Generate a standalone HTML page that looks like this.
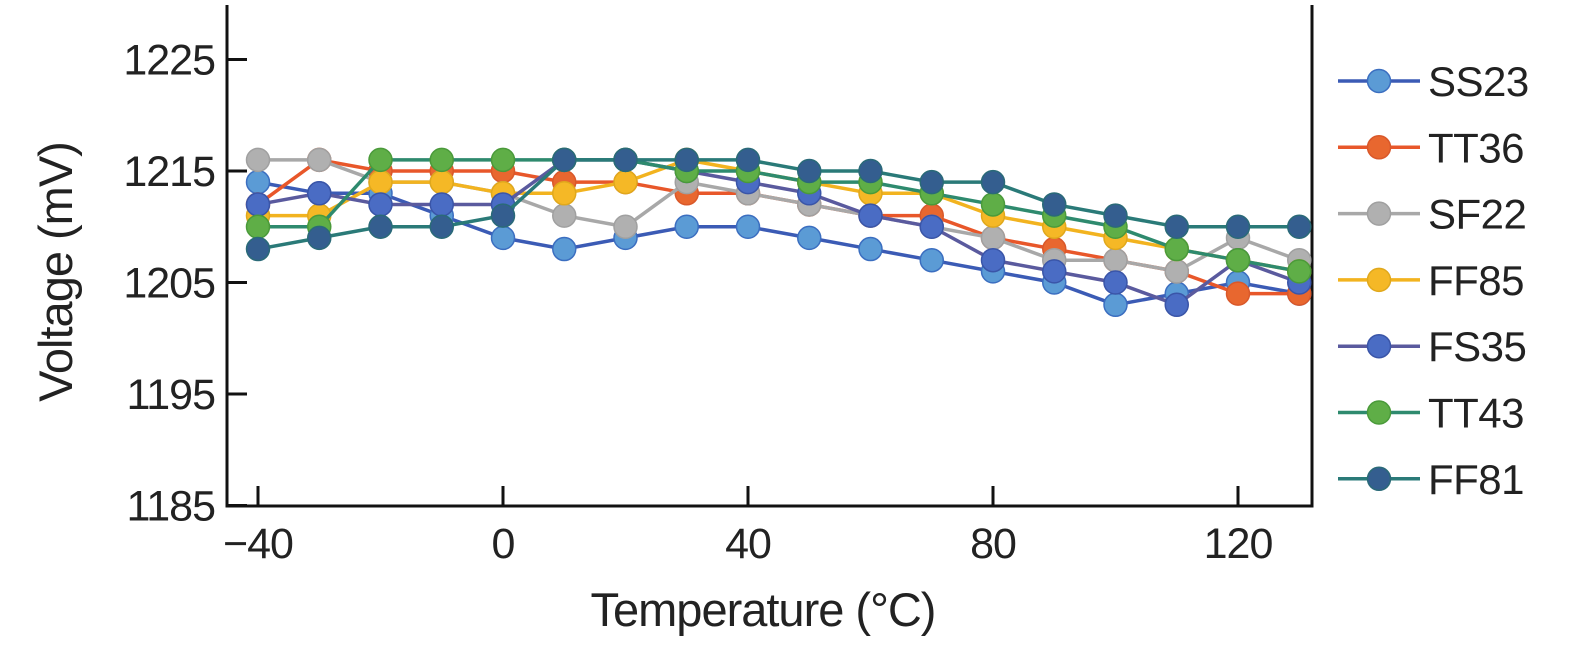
<!DOCTYPE html>
<html><head><meta charset="utf-8"><style>
body{margin:0;background:#fff;}
svg{display:block;font-family:"Liberation Sans",sans-serif;}
</style></head><body>
<svg id="chart" width="1575" height="650"></svg>
<script>
const temps=[-40,-30,-20,-10,0,10,20,30,40,50,60,70,80,90,100,110,120,130];
const seriesNames=["SS23","TT36","SF22","FF85","FS35","TT43","FF81"];
const ss23=[1214,1213,1213,1211,1209,1208,1209,1210,1210,1209,1208,1207,1206,1205,1203,1204,1205,1204];
const tt36=[1212,1216,1215,1215,1215,1214,1214,1213,1213,1212,1211,1211,1209,1208,1207,1206,1204,1204];
const sf22=[1216,1216,1214,1214,1213,1211,1210,1214,1213,1212,1211,1210,1209,1207,1207,1206,1209,1207];
const ff85=[1211,1211,1214,1214,1213,1213,1214,1216,1215,1214,1213,1213,1211,1210,1209,1208,1207,1206];
const fs35=[1212,1213,1212,1212,1212,1216,1216,1215,1214,1213,1211,1210,1207,1206,1205,1203,1207,1205];
const tt43=[1210,1210,1216,1216,1216,1216,1216,1215,1215,1214,1214,1213,1212,1211,1210,1208,1207,1206];
const ff81=[1208,1209,1210,1210,1211,1216,1216,1216,1216,1215,1215,1214,1214,1212,1211,1210,1210,1210];
const xTicks=[-40,0,40,80,120];
const yTicks=[1185,1195,1205,1215,1225];
const allSeries=[ss23,tt36,sf22,ff85,fs35,tt43,ff81];
const lineColors=["#3b5bb5","#e8572a","#a8a8a8","#f2b31f","#5a5a9e","#2e8a6e","#2a7a78"];
const fillColors=["#5b9bd5","#e8672f","#b0b0b0","#f5b826","#4a6cc4","#5fae47","#345e8f"];
const strokeColors=["#3b6ec0","#d9582a","#a0a0a0","#e0a81c","#3a55a8","#4a9a3a","#2a6a78"];
const svg=document.getElementById('chart');
const NS="http://www.w3.org/2000/svg";
const X0=227,X1=1312,Y0=5,Y1=506;
function xs(t){return 503+(t-0)*6.125;}
function ys(v){return 171+(1215-v)*11.15;}
function mk(tag,attrs,parent){const e=document.createElementNS(NS,tag);for(const k in attrs)e.setAttribute(k,attrs[k]);(parent||svg).appendChild(e);return e;}
let ax=mk('path',{d:`M${X0},${Y0} L${X0},${Y1} L${X1},${Y1} L${X1},${Y0}`,fill:'none',stroke:'#111','stroke-width':3});


yTicks.forEach(v=>{
 let l=mk('line',{x1:X0,x2:X0+20,y1:ys(v),y2:ys(v),stroke:'#111','stroke-width':3});
 
 
 let t=mk('text',{x:X0-12,y:ys(v)+15,'text-anchor':'end','font-size':43,fill:'#222','letter-spacing':-1});
 t.textContent=v;
 
 
});
xTicks.forEach(v=>{
 let l=mk('line',{x1:xs(v),x2:xs(v),y1:Y1,y2:Y1-20,stroke:'#111','stroke-width':3});
 
 
 let t=mk('text',{x:xs(v),y:Y1+52,'text-anchor':'middle','font-size':43,fill:'#222','letter-spacing':-1});
 t.textContent=v<0?'\u2212'+(-v):v;
 
 
});
let xt=mk('text',{x:763,y:626,'text-anchor':'middle','font-size':47,fill:'#222','letter-spacing':-1});
xt.textContent='Temperature (\u00B0C)';


let yt=mk('text',{x:0,y:0,'text-anchor':'middle','font-size':47,fill:'#222','letter-spacing':-1,transform:'translate(72,272) rotate(-90)'});
yt.textContent='Voltage (mV)';


allSeries.forEach((s,i)=>{
 const g=mk('g',{});
 
 
 let p=mk('polyline',{points:s.map((v,j)=>xs(temps[j])+','+ys(v)).join(' '),fill:'none',stroke:lineColors[i],'stroke-width':3.5},g);
 
 
 s.forEach((v,j)=>{
  let c=mk('circle',{cx:xs(temps[j]),cy:ys(v),r:11.5,fill:fillColors[i],stroke:strokeColors[i],'stroke-width':1.5},g);
  
  
 });
 const ly=81+i*66.3;
 const lg=mk('g',{});
 
 
 mk('line',{x1:1338,x2:1420,y1:ly,y2:ly,stroke:lineColors[i],'stroke-width':3.5},lg);
 mk('circle',{cx:1379,cy:ly,r:11.5,fill:fillColors[i],stroke:strokeColors[i],'stroke-width':1.5},lg);
 let t=mk('text',{x:1428,y:ly+15,'font-size':42,fill:'#222','letter-spacing':-0.5},lg);
 t.textContent=seriesNames[i];
});
</script>
</body></html>
